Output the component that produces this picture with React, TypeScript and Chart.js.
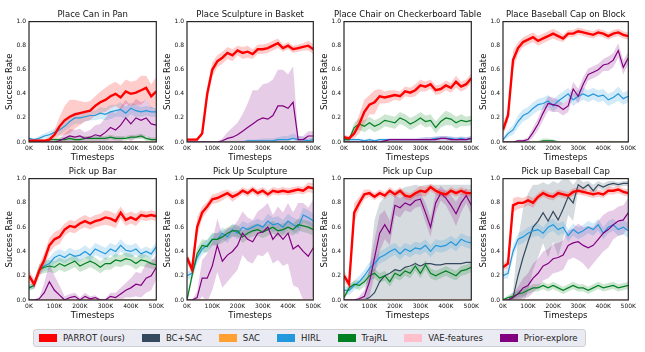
import React, { useEffect, useRef } from "react";
import { Chart, registerables } from "chart.js";

Chart.register(...registerables);
Chart.defaults.font.family = "'DejaVu Sans', sans-serif";

// ---------------- data ----------------
const timesteps = [0, 20000, 40000, 60000, 80000, 100000, 120000, 140000, 160000, 180000, 200000, 220000, 240000, 260000, 280000, 300000, 320000, 340000, 360000, 380000, 400000, 420000, 440000, 460000, 480000, 500000];
const xTickLabels = ["0K", "100K", "200K", "300K", "400K", "500K"];
const yTickLabels = ["0.0", "0.2", "0.4", "0.6", "0.8", "1.0"];

const methods = ["PARROT (ours)", "BC+SAC", "SAC", "HIRL", "TrajRL", "VAE-features", "Prior-explore"];
const methodColors = ["#ff0000", "#34495e", "#ffa030", "#2498dc", "#008020", "#ffc0cb", "#800080"];
const bandColors = ["rgba(255,0,0,0.2)", "rgba(52,73,94,0.2)", "rgba(255,160,48,0.2)", "rgba(36,152,220,0.2)", "rgba(0,128,32,0.2)", "rgba(255,192,203,0.3)", "rgba(128,0,128,0.2)"];

const panelTitles = ["Place Can in Pan", "Place Sculpture in Basket", "Place Chair on Checkerboard Table", "Place Baseball Cap on Block", "Pick up Bar", "Pick Up Sculpture", "Pick up Cup", "Pick up Baseball Cap"];

const ZERO = [0, 0, 0, 0, 0, 0, 0, 0, 0, 0, 0, 0, 0, 0, 0, 0, 0, 0, 0, 0, 0, 0, 0, 0, 0, 0];

// Place Can in Pan
const canPan_parrot = [0.01, 0.01, 0.01, 0.01, 0.02, 0.06, 0.13, 0.18, 0.21, 0.23, 0.24, 0.25, 0.26, 0.3, 0.33, 0.35, 0.38, 0.4, 0.37, 0.42, 0.4, 0.41, 0.43, 0.45, 0.38, 0.42];
const canPan_parrot_sd = [0.01, 0.01, 0.01, 0.01, 0.02, 0.04, 0.08, 0.12, 0.14, 0.12, 0.1, 0.08, 0.08, 0.08, 0.09, 0.1, 0.1, 0.1, 0.1, 0.1, 0.1, 0.1, 0.12, 0.1, 0.1, 0.12];
const canPan_hirl = [0.03, 0.02, 0.03, 0.05, 0.06, 0.08, 0.1, 0.13, 0.17, 0.2, 0.2, 0.21, 0.22, 0.22, 0.24, 0.23, 0.25, 0.26, 0.27, 0.24, 0.28, 0.26, 0.25, 0.26, 0.25, 0.25];
const canPan_hirl_sd = [0.01, 0.01, 0.02, 0.02, 0.03, 0.03, 0.04, 0.04, 0.05, 0.05, 0.05, 0.04, 0.04, 0.04, 0.05, 0.05, 0.06, 0.05, 0.06, 0.05, 0.05, 0.05, 0.04, 0.04, 0.04, 0.04];
const canPan_prior = [0, 0, 0, 0, 0, 0, 0.01, 0.03, 0.05, 0.04, 0.05, 0.03, 0.04, 0.06, 0.05, 0.08, 0.12, 0.1, 0.14, 0.2, 0.15, 0.2, 0.18, 0.2, 0.15, 0.14];
const canPan_prior_sd = [0, 0, 0, 0, 0, 0.01, 0.02, 0.04, 0.06, 0.06, 0.06, 0.05, 0.06, 0.08, 0.1, 0.12, 0.14, 0.14, 0.15, 0.15, 0.15, 0.16, 0.15, 0.15, 0.14, 0.14];
const canPan_traj = [0.01, 0.01, 0.01, 0.01, 0.02, 0.02, 0.02, 0.02, 0.03, 0.02, 0.02, 0.03, 0.03, 0.03, 0.03, 0.03, 0.04, 0.03, 0.03, 0.03, 0.04, 0.04, 0.05, 0.03, 0.02, 0.02];
const canPan_traj_sd = [0.01, 0.01, 0.01, 0.01, 0.01, 0.01, 0.02, 0.02, 0.02, 0.02, 0.02, 0.02, 0.02, 0.02, 0.02, 0.02, 0.02, 0.02, 0.02, 0.02, 0.02, 0.02, 0.02, 0.02, 0.02, 0.02];

// Place Sculpture in Basket
const sculptBasket_parrot = [0.02, 0.02, 0.02, 0.07, 0.4, 0.6, 0.67, 0.7, 0.74, 0.72, 0.76, 0.74, 0.75, 0.73, 0.77, 0.77, 0.78, 0.8, 0.82, 0.78, 0.8, 0.77, 0.78, 0.79, 0.8, 0.77];
const sculptBasket_parrot_sd = [0.01, 0.01, 0.01, 0.02, 0.06, 0.06, 0.05, 0.05, 0.05, 0.05, 0.04, 0.05, 0.05, 0.04, 0.04, 0.04, 0.04, 0.04, 0.04, 0.03, 0.03, 0.03, 0.03, 0.03, 0.04, 0.04];
const sculptBasket_prior = [0, 0, 0, 0, 0, 0, 0, 0.01, 0.03, 0.04, 0.06, 0.09, 0.12, 0.15, 0.18, 0.2, 0.19, 0.22, 0.3, 0.3, 0.28, 0.33, 0.02, 0.02, 0.05, 0.05];
const sculptBasket_prior_sd = [0, 0, 0, 0, 0, 0, 0, 0.02, 0.05, 0.08, 0.1, 0.14, 0.2, 0.28, 0.25, 0.28, 0.3, 0.3, 0.3, 0.3, 0.28, 0.3, 0.03, 0.03, 0.04, 0.04];
const sculptBasket_hirl = [0, 0, 0, 0, 0, 0, 0, 0, 0, 0, 0, 0, 0.01, 0.01, 0.01, 0.01, 0.01, 0.01, 0.02, 0.02, 0.02, 0.03, 0.02, 0.02, 0.01, 0.02];
const sculptBasket_hirl_sd = [0, 0, 0, 0, 0, 0, 0, 0, 0, 0, 0.01, 0.01, 0.01, 0.01, 0.01, 0.02, 0.02, 0.02, 0.02, 0.03, 0.03, 0.04, 0.03, 0.02, 0.02, 0.02];

// Place Chair on Checkerboard Table
const chair_parrot = [0.04, 0.03, 0.07, 0.15, 0.25, 0.31, 0.33, 0.38, 0.37, 0.38, 0.39, 0.38, 0.42, 0.41, 0.43, 0.47, 0.46, 0.48, 0.43, 0.44, 0.47, 0.45, 0.5, 0.46, 0.48, 0.53];
const chair_parrot_sd = [0.02, 0.02, 0.04, 0.08, 0.1, 0.08, 0.1, 0.06, 0.05, 0.05, 0.04, 0.04, 0.04, 0.04, 0.05, 0.05, 0.04, 0.04, 0.04, 0.04, 0.04, 0.04, 0.05, 0.04, 0.04, 0.04];
const chair_traj = [0.02, 0.02, 0.12, 0.15, 0.13, 0.16, 0.13, 0.15, 0.18, 0.17, 0.16, 0.2, 0.18, 0.15, 0.17, 0.2, 0.17, 0.18, 0.12, 0.17, 0.2, 0.19, 0.16, 0.18, 0.17, 0.18];
const chair_traj_sd = [0.01, 0.02, 0.04, 0.05, 0.05, 0.05, 0.05, 0.05, 0.05, 0.05, 0.05, 0.05, 0.05, 0.05, 0.05, 0.05, 0.05, 0.05, 0.05, 0.05, 0.06, 0.05, 0.05, 0.05, 0.04, 0.04];
const chair_hirl = [0.02, 0.02, 0.02, 0.02, 0.01, 0.02, 0.01, 0.02, 0.02, 0.02, 0.02, 0.02, 0.02, 0.02, 0.02, 0.02, 0.02, 0.02, 0.03, 0.03, 0.03, 0.03, 0.02, 0.03, 0.02, 0.03];
const chair_hirl_sd = [0.01, 0.01, 0.01, 0.01, 0.01, 0.01, 0.01, 0.01, 0.01, 0.01, 0.01, 0.01, 0.01, 0.01, 0.01, 0.02, 0.02, 0.02, 0.02, 0.02, 0.02, 0.02, 0.02, 0.02, 0.02, 0.02];
const chair_prior = [0, 0, 0, 0, 0, 0, 0, 0, 0.01, 0.02, 0.02, 0.02, 0.02, 0.02, 0.02, 0.02, 0.02, 0.02, 0.02, 0.03, 0.03, 0.02, 0.02, 0.02, 0.02, 0.03];
const chair_prior_sd = [0, 0, 0, 0, 0, 0, 0, 0.01, 0.01, 0.01, 0.01, 0.01, 0.01, 0.01, 0.01, 0.01, 0.02, 0.02, 0.02, 0.02, 0.02, 0.02, 0.02, 0.02, 0.02, 0.02];

// Place Baseball Cap on Block
const capBlock_parrot = [0.1, 0.22, 0.68, 0.78, 0.83, 0.85, 0.87, 0.84, 0.86, 0.88, 0.9, 0.88, 0.86, 0.9, 0.9, 0.92, 0.91, 0.9, 0.89, 0.91, 0.9, 0.88, 0.9, 0.91, 0.89, 0.88];
const capBlock_parrot_sd = [0.05, 0.05, 0.08, 0.05, 0.04, 0.04, 0.04, 0.04, 0.04, 0.04, 0.04, 0.04, 0.03, 0.03, 0.03, 0.03, 0.03, 0.03, 0.03, 0.03, 0.03, 0.03, 0.03, 0.03, 0.03, 0.03];
const capBlock_hirl = [0.02, 0.07, 0.1, 0.17, 0.22, 0.24, 0.28, 0.31, 0.32, 0.34, 0.3, 0.34, 0.37, 0.4, 0.35, 0.38, 0.4, 0.38, 0.4, 0.38, 0.39, 0.35, 0.37, 0.4, 0.36, 0.38];
const capBlock_hirl_sd = [0.02, 0.03, 0.04, 0.05, 0.05, 0.05, 0.05, 0.05, 0.05, 0.05, 0.05, 0.05, 0.05, 0.05, 0.05, 0.05, 0.05, 0.05, 0.05, 0.05, 0.05, 0.05, 0.05, 0.06, 0.05, 0.05];
const capBlock_prior = [0, 0, 0, 0.01, 0.01, 0.02, 0.08, 0.15, 0.24, 0.32, 0.31, 0.3, 0.27, 0.3, 0.44, 0.38, 0.48, 0.56, 0.58, 0.6, 0.64, 0.65, 0.68, 0.76, 0.62, 0.7];
const capBlock_prior_sd = [0, 0, 0, 0.01, 0.01, 0.02, 0.04, 0.05, 0.06, 0.06, 0.06, 0.05, 0.05, 0.05, 0.06, 0.06, 0.06, 0.05, 0.05, 0.05, 0.05, 0.06, 0.06, 0.06, 0.06, 0.05];
const capBlock_traj = [0, 0, 0, 0, 0, 0, 0, 0, 0.01, 0.01, 0.01, 0, 0, 0, 0, 0, 0, 0, 0, 0, 0, 0, 0, 0, 0, 0];
const capBlock_traj_sd = [0, 0, 0, 0, 0, 0, 0.01, 0.01, 0.02, 0.02, 0.01, 0.01, 0, 0, 0, 0, 0, 0, 0, 0, 0, 0.01, 0.01, 0, 0, 0];

// Pick up Bar
const bar_parrot = [0.2, 0.13, 0.24, 0.33, 0.45, 0.5, 0.52, 0.58, 0.61, 0.6, 0.63, 0.65, 0.63, 0.65, 0.66, 0.68, 0.67, 0.65, 0.72, 0.66, 0.68, 0.66, 0.7, 0.69, 0.7, 0.69];
const bar_parrot_sd = [0.05, 0.04, 0.05, 0.06, 0.06, 0.06, 0.06, 0.05, 0.05, 0.05, 0.05, 0.05, 0.05, 0.05, 0.05, 0.06, 0.06, 0.06, 0.05, 0.05, 0.05, 0.05, 0.04, 0.04, 0.04, 0.04];
const bar_hirl = [0.1, 0.12, 0.25, 0.28, 0.3, 0.35, 0.37, 0.35, 0.38, 0.36, 0.37, 0.4, 0.37, 0.42, 0.4, 0.38, 0.42, 0.4, 0.45, 0.41, 0.4, 0.42, 0.38, 0.4, 0.38, 0.44];
const bar_hirl_sd = [0.02, 0.03, 0.04, 0.04, 0.05, 0.05, 0.05, 0.05, 0.05, 0.05, 0.05, 0.05, 0.05, 0.05, 0.05, 0.05, 0.05, 0.05, 0.05, 0.05, 0.05, 0.05, 0.04, 0.04, 0.04, 0.04];
const bar_traj = [0.1, 0.12, 0.25, 0.27, 0.28, 0.27, 0.3, 0.28, 0.3, 0.32, 0.28, 0.3, 0.32, 0.3, 0.27, 0.3, 0.3, 0.33, 0.32, 0.34, 0.33, 0.3, 0.33, 0.32, 0.3, 0.29];
const bar_traj_sd = [0.02, 0.03, 0.04, 0.05, 0.05, 0.05, 0.05, 0.05, 0.05, 0.05, 0.05, 0.05, 0.05, 0.05, 0.05, 0.05, 0.05, 0.05, 0.05, 0.05, 0.05, 0.05, 0.05, 0.05, 0.04, 0.04];
const bar_prior = [0, 0, 0.01, 0.06, 0.15, 0.08, 0.04, 0, 0.02, 0.03, 0, 0.03, 0.01, 0.02, 0, 0, 0.03, 0.02, 0.05, 0.08, 0.1, 0.13, 0.12, 0.18, 0.2, 0.27];
const bar_prior_sd = [0, 0, 0.01, 0.08, 0.15, 0.12, 0.08, 0.03, 0.03, 0.03, 0.02, 0.03, 0.02, 0.02, 0.01, 0.01, 0.03, 0.04, 0.05, 0.06, 0.08, 0.1, 0.1, 0.12, 0.12, 0.1];

// Pick Up Sculpture
const pickSculpt_parrot = [0.35, 0.25, 0.6, 0.72, 0.77, 0.83, 0.84, 0.86, 0.88, 0.85, 0.87, 0.9, 0.88, 0.91, 0.88, 0.9, 0.87, 0.9, 0.89, 0.9, 0.89, 0.9, 0.91, 0.9, 0.93, 0.92];
const pickSculpt_parrot_sd = [0.04, 0.04, 0.08, 0.05, 0.04, 0.04, 0.04, 0.04, 0.03, 0.04, 0.03, 0.03, 0.03, 0.03, 0.03, 0.03, 0.03, 0.03, 0.03, 0.03, 0.03, 0.03, 0.03, 0.03, 0.04, 0.04];
const pickSculpt_hirl = [0.2, 0.22, 0.35, 0.42, 0.45, 0.5, 0.5, 0.55, 0.52, 0.58, 0.55, 0.6, 0.58, 0.6, 0.62, 0.6, 0.65, 0.62, 0.63, 0.6, 0.65, 0.62, 0.6, 0.7, 0.68, 0.65];
const pickSculpt_hirl_sd = [0.03, 0.04, 0.05, 0.05, 0.05, 0.05, 0.05, 0.05, 0.05, 0.05, 0.05, 0.05, 0.05, 0.05, 0.05, 0.05, 0.06, 0.06, 0.06, 0.06, 0.06, 0.06, 0.06, 0.06, 0.06, 0.06];
const pickSculpt_traj = [0, 0.2, 0.38, 0.45, 0.44, 0.5, 0.5, 0.52, 0.55, 0.57, 0.57, 0.52, 0.55, 0.57, 0.58, 0.56, 0.58, 0.6, 0.57, 0.58, 0.6, 0.58, 0.62, 0.61, 0.6, 0.58];
const pickSculpt_traj_sd = [0.02, 0.04, 0.05, 0.05, 0.05, 0.05, 0.05, 0.05, 0.05, 0.05, 0.05, 0.05, 0.05, 0.05, 0.05, 0.05, 0.05, 0.05, 0.05, 0.05, 0.05, 0.05, 0.05, 0.05, 0.05, 0.05];
const pickSculpt_prior = [0, 0, 0.02, 0.18, 0.18, 0.28, 0.45, 0.32, 0.37, 0.4, 0.45, 0.55, 0.5, 0.48, 0.55, 0.56, 0.6, 0.5, 0.55, 0.5, 0.55, 0.42, 0.45, 0.4, 0.36, 0.43];
const pickSculpt_prior_sd = [0, 0, 0.05, 0.15, 0.2, 0.2, 0.22, 0.22, 0.22, 0.2, 0.2, 0.18, 0.18, 0.18, 0.18, 0.2, 0.2, 0.2, 0.22, 0.22, 0.25, 0.3, 0.35, 0.4, 0.4, 0.4];

// Pick up Cup
const cup_parrot = [0.2, 0.13, 0.72, 0.8, 0.87, 0.88, 0.85, 0.88, 0.86, 0.9, 0.87, 0.9, 0.86, 0.85, 0.88, 0.9, 0.89, 0.93, 0.9, 0.88, 0.87, 0.9, 0.88, 0.9, 0.88, 0.88];
const cup_parrot_sd = [0.05, 0.03, 0.08, 0.05, 0.04, 0.03, 0.03, 0.03, 0.03, 0.03, 0.03, 0.03, 0.03, 0.03, 0.03, 0.04, 0.04, 0.03, 0.03, 0.03, 0.03, 0.03, 0.03, 0.03, 0.03, 0.03];
const cup_hirl = [0.08, 0.08, 0.12, 0.15, 0.2, 0.26, 0.3, 0.35, 0.37, 0.4, 0.42, 0.38, 0.42, 0.4, 0.43, 0.42, 0.45, 0.4, 0.45, 0.44, 0.45, 0.48, 0.45, 0.5, 0.48, 0.47];
const cup_hirl_sd = [0.03, 0.04, 0.04, 0.05, 0.05, 0.05, 0.05, 0.05, 0.05, 0.05, 0.05, 0.05, 0.05, 0.05, 0.05, 0.05, 0.05, 0.05, 0.05, 0.05, 0.05, 0.05, 0.05, 0.05, 0.05, 0.05];
const cup_traj = [0.02, 0.1, 0.13, 0.12, 0.15, 0.2, 0.22, 0.18, 0.2, 0.15, 0.22, 0.2, 0.24, 0.22, 0.28, 0.22, 0.29, 0.22, 0.2, 0.22, 0.24, 0.22, 0.2, 0.24, 0.25, 0.27];
const cup_traj_sd = [0.02, 0.03, 0.03, 0.04, 0.04, 0.04, 0.04, 0.04, 0.04, 0.04, 0.04, 0.04, 0.04, 0.04, 0.04, 0.04, 0.04, 0.04, 0.04, 0.04, 0.04, 0.04, 0.04, 0.04, 0.04, 0.04];
const cup_bcsac = [0, 0, 0, 0, 0, 0.02, 0.06, 0.15, 0.2, 0.22, 0.25, 0.24, 0.27, 0.28, 0.3, 0.28, 0.3, 0.3, 0.29, 0.29, 0.3, 0.3, 0.3, 0.3, 0.31, 0.31];
const cup_bcsac_sd = [0, 0, 0, 0, 0.03, 0.25, 0.6, 0.65, 0.65, 0.66, 0.65, 0.67, 0.66, 0.66, 0.65, 0.66, 0.65, 0.65, 0.66, 0.66, 0.65, 0.65, 0.65, 0.65, 0.64, 0.64];
const cup_prior = [0, 0, 0, 0.01, 0.03, 0.15, 0.35, 0.55, 0.62, 0.55, 0.78, 0.76, 0.8, 0.78, 0.82, 0.83, 0.72, 0.6, 0.8, 0.88, 0.84, 0.78, 0.71, 0.8, 0.86, 0.78];
const cup_prior_sd = [0, 0, 0, 0.02, 0.05, 0.12, 0.15, 0.15, 0.12, 0.1, 0.08, 0.08, 0.06, 0.06, 0.06, 0.06, 0.08, 0.08, 0.08, 0.06, 0.06, 0.08, 0.1, 0.08, 0.06, 0.08];

// Pick up Baseball Cap
const pickCap_parrot = [0.27, 0.3, 0.78, 0.8, 0.8, 0.82, 0.8, 0.85, 0.88, 0.86, 0.85, 0.88, 0.87, 0.86, 0.89, 0.9, 0.89, 0.88, 0.87, 0.88, 0.87, 0.9, 0.9, 0.91, 0.89, 0.88];
const pickCap_parrot_sd = [0.03, 0.04, 0.06, 0.05, 0.04, 0.04, 0.04, 0.03, 0.03, 0.03, 0.03, 0.03, 0.03, 0.03, 0.03, 0.03, 0.03, 0.03, 0.03, 0.03, 0.03, 0.03, 0.03, 0.03, 0.03, 0.03];
const pickCap_hirl = [0.2, 0.22, 0.4, 0.5, 0.52, 0.55, 0.57, 0.58, 0.55, 0.6, 0.62, 0.58, 0.6, 0.53, 0.58, 0.55, 0.57, 0.6, 0.58, 0.62, 0.55, 0.6, 0.62, 0.58, 0.6, 0.57];
const pickCap_hirl_sd = [0.03, 0.04, 0.05, 0.05, 0.05, 0.05, 0.05, 0.05, 0.05, 0.05, 0.05, 0.05, 0.05, 0.05, 0.05, 0.05, 0.05, 0.05, 0.05, 0.05, 0.05, 0.05, 0.05, 0.05, 0.06, 0.06];
const pickCap_bcsac = [0, 0, 0.02, 0.2, 0.35, 0.48, 0.6, 0.65, 0.72, 0.65, 0.73, 0.66, 0.75, 0.85, 0.8, 0.95, 0.92, 0.95, 0.9, 0.95, 0.93, 0.95, 0.96, 0.95, 0.96, 0.96];
const pickCap_bcsac_sd = [0, 0, 0.05, 0.3, 0.4, 0.4, 0.35, 0.3, 0.25, 0.3, 0.25, 0.3, 0.25, 0.15, 0.15, 0.05, 0.05, 0.03, 0.05, 0.03, 0.03, 0.03, 0.02, 0.02, 0.02, 0.02];
const pickCap_prior = [0, 0, 0.02, 0.05, 0.1, 0.12, 0.18, 0.22, 0.28, 0.3, 0.34, 0.35, 0.37, 0.45, 0.47, 0.48, 0.45, 0.43, 0.45, 0.5, 0.55, 0.58, 0.62, 0.65, 0.66, 0.72];
const pickCap_prior_sd = [0, 0, 0.03, 0.06, 0.08, 0.1, 0.12, 0.12, 0.12, 0.12, 0.12, 0.12, 0.12, 0.12, 0.12, 0.15, 0.15, 0.18, 0.15, 0.15, 0.15, 0.15, 0.12, 0.12, 0.12, 0.12];
const pickCap_traj = [0, 0.02, 0.03, 0.05, 0.06, 0.08, 0.1, 0.1, 0.12, 0.1, 0.12, 0.1, 0.08, 0.1, 0.12, 0.1, 0.1, 0.08, 0.1, 0.12, 0.1, 0.11, 0.12, 0.1, 0.11, 0.12];
const pickCap_traj_sd = [0.01, 0.02, 0.03, 0.03, 0.03, 0.03, 0.03, 0.03, 0.03, 0.03, 0.03, 0.03, 0.03, 0.03, 0.03, 0.03, 0.03, 0.03, 0.03, 0.03, 0.03, 0.03, 0.03, 0.03, 0.03, 0.03];

// method indices: 0 PARROT, 1 BC+SAC, 2 SAC, 3 HIRL, 4 TrajRL, 5 VAE-features, 6 Prior-explore
type S = { m: number; mean: number[]; sd: number[] };
const panelSeries: S[][] = [
  [
    { m: 1, mean: ZERO, sd: ZERO }, { m: 2, mean: ZERO, sd: ZERO }, { m: 5, mean: ZERO, sd: ZERO },
    { m: 3, mean: canPan_hirl, sd: canPan_hirl_sd }, { m: 6, mean: canPan_prior, sd: canPan_prior_sd },
    { m: 4, mean: canPan_traj, sd: canPan_traj_sd }, { m: 0, mean: canPan_parrot, sd: canPan_parrot_sd },
  ],
  [
    { m: 1, mean: ZERO, sd: ZERO }, { m: 2, mean: ZERO, sd: ZERO }, { m: 5, mean: ZERO, sd: ZERO }, { m: 4, mean: ZERO, sd: ZERO },
    { m: 3, mean: sculptBasket_hirl, sd: sculptBasket_hirl_sd }, { m: 6, mean: sculptBasket_prior, sd: sculptBasket_prior_sd },
    { m: 0, mean: sculptBasket_parrot, sd: sculptBasket_parrot_sd },
  ],
  [
    { m: 1, mean: ZERO, sd: ZERO }, { m: 2, mean: ZERO, sd: ZERO }, { m: 5, mean: ZERO, sd: ZERO },
    { m: 6, mean: chair_prior, sd: chair_prior_sd }, { m: 3, mean: chair_hirl, sd: chair_hirl_sd },
    { m: 4, mean: chair_traj, sd: chair_traj_sd }, { m: 0, mean: chair_parrot, sd: chair_parrot_sd },
  ],
  [
    { m: 1, mean: ZERO, sd: ZERO }, { m: 2, mean: ZERO, sd: ZERO }, { m: 5, mean: ZERO, sd: ZERO },
    { m: 4, mean: capBlock_traj, sd: capBlock_traj_sd }, { m: 3, mean: capBlock_hirl, sd: capBlock_hirl_sd },
    { m: 6, mean: capBlock_prior, sd: capBlock_prior_sd }, { m: 0, mean: capBlock_parrot, sd: capBlock_parrot_sd },
  ],
  [
    { m: 1, mean: ZERO, sd: ZERO }, { m: 5, mean: ZERO, sd: ZERO }, { m: 2, mean: ZERO, sd: ZERO },
    { m: 6, mean: bar_prior, sd: bar_prior_sd }, { m: 4, mean: bar_traj, sd: bar_traj_sd },
    { m: 3, mean: bar_hirl, sd: bar_hirl_sd }, { m: 0, mean: bar_parrot, sd: bar_parrot_sd },
  ],
  [
    { m: 1, mean: ZERO, sd: ZERO }, { m: 5, mean: ZERO, sd: ZERO }, { m: 2, mean: ZERO, sd: ZERO },
    { m: 6, mean: pickSculpt_prior, sd: pickSculpt_prior_sd }, { m: 3, mean: pickSculpt_hirl, sd: pickSculpt_hirl_sd },
    { m: 4, mean: pickSculpt_traj, sd: pickSculpt_traj_sd }, { m: 0, mean: pickSculpt_parrot, sd: pickSculpt_parrot_sd },
  ],
  [
    { m: 5, mean: ZERO, sd: ZERO }, { m: 2, mean: ZERO, sd: ZERO },
    { m: 1, mean: cup_bcsac, sd: cup_bcsac_sd }, { m: 3, mean: cup_hirl, sd: cup_hirl_sd },
    { m: 4, mean: cup_traj, sd: cup_traj_sd }, { m: 6, mean: cup_prior, sd: cup_prior_sd },
    { m: 0, mean: cup_parrot, sd: cup_parrot_sd },
  ],
  [
    { m: 5, mean: ZERO, sd: ZERO }, { m: 2, mean: ZERO, sd: ZERO },
    { m: 1, mean: pickCap_bcsac, sd: pickCap_bcsac_sd }, { m: 4, mean: pickCap_traj, sd: pickCap_traj_sd },
    { m: 6, mean: pickCap_prior, sd: pickCap_prior_sd }, { m: 3, mean: pickCap_hirl, sd: pickCap_hirl_sd },
    { m: 0, mean: pickCap_parrot, sd: pickCap_parrot_sd },
  ],
];

// ---------------- layout ----------------
const Y_AXIS_W = 27;
const RIGHT_PAD = 10;
const TOP_PAD = 21.6;
const colPlotLeft = [29, 187, 344, 503];
const colPlotW = [128, 127, 128, 126];
const rowTop = [0, 157];
const rowHeight = [165, 166];

const framePlugin = {
  id: "frame",
  afterDraw(chart: any) {
    const { ctx, chartArea: a } = chart;
    ctx.save();
    ctx.strokeStyle = "#262626";
    ctx.lineWidth = 1.2;
    ctx.strokeRect(a.left, a.top, a.right - a.left, a.bottom - a.top);
    ctx.restore();
  },
};

function makeTitlePlugin(text: string) {
  return {
    id: "panelTitle",
    afterDraw(chart: any) {
      const { ctx, chartArea: a } = chart;
      ctx.save();
      ctx.font = "8.5px 'DejaVu Sans', sans-serif";
      ctx.fillStyle = "#111";
      ctx.textAlign = "center";
      ctx.textBaseline = "middle";
      ctx.fillText(text, (a.left + a.right) / 2, a.top - 7.1);
      ctx.restore();
    },
  };
}

function Panel({ idx }: { idx: number }) {
  const ref = useRef<HTMLCanvasElement>(null);
  const col = idx % 4;
  const row = Math.floor(idx / 4);
  const left = colPlotLeft[col] - Y_AXIS_W;
  const width = Y_AXIS_W + colPlotW[col] + RIGHT_PAD;
  const top = rowTop[row];
  const height = rowHeight[row];

  useEffect(() => {
    if (!ref.current) return;
    const series = panelSeries[idx];
    const datasets: any[] = [];
    const drawRank = [0, 6, 5, 4, 3, 2, 1]; // lower = drawn on top
    series.forEach((s) => {
      const hasBand = s.sd.some((v) => v > 0);
      const rank = drawRank[s.m];
      if (hasBand) {
        datasets.push({
          data: timesteps.map((x, i) => ({ x, y: s.mean[i] - s.sd[i] })),
          borderWidth: 0, pointRadius: 0, fill: false, order: 20 + rank,
        });
        datasets.push({
          data: timesteps.map((x, i) => ({ x, y: s.mean[i] + s.sd[i] })),
          borderWidth: 0, pointRadius: 0, fill: "-1",
          backgroundColor: bandColors[s.m], order: 20 + rank,
        });
      }
    });
    series.forEach((s) => {
      datasets.push({
        label: methods[s.m],
        data: timesteps.map((x, i) => ({ x, y: s.mean[i] })),
        borderColor: methodColors[s.m],
        borderWidth: s.m === 0 ? 2.4 : 1.2,
        pointRadius: 0,
        fill: false,
        tension: 0,
        order: drawRank[s.m],
      });
    });

    const chart = new Chart(ref.current, {
      type: "line",
      data: { datasets },
      plugins: [framePlugin, makeTitlePlugin(panelTitles[idx])],
      options: {
        animation: false,
        responsive: false,
        maintainAspectRatio: false,
        devicePixelRatio: 1,
        layout: { padding: { left: 0, right: RIGHT_PAD, top: TOP_PAD, bottom: 0 } },
        plugins: {
          legend: { display: false },
          tooltip: { enabled: false },
          title: { display: false },
        },
        scales: {
          x: {
            type: "linear",
            min: 0,
            max: 500000,
            grid: { display: false, drawTicks: false },
            border: { display: false },
            afterFit: (s: any) => { s.height = 23; },
            ticks: {
              stepSize: 100000,
              padding: 3,
              color: "#111",
              maxRotation: 0,
              font: { size: 6 },
              callback: (v: any) => xTickLabels[Math.round(Number(v) / 100000)],
            },
            title: {
              display: true,
              text: "Timesteps",
              color: "#111",
              font: { size: 8.5 },
              padding: { top: 0, bottom: 2 },
            },
          },
          y: {
            min: 0,
            max: 1,
            grid: { display: false, drawTicks: false },
            border: { display: false },
            afterFit: (s: any) => { s.width = Y_AXIS_W; },
            ticks: {
              stepSize: 0.2,
              padding: 3,
              color: "#111",
              font: { size: 6 },
              callback: (v: any) => yTickLabels[Math.round(Number(v) * 5)],
            },
            title: {
              display: true,
              text: "Success Rate",
              color: "#111",
              font: { size: 8.5 },
              padding: { top: 3, bottom: 0 },
            },
          },
        },
      } as any,
    });
    return () => chart.destroy();
  }, [idx]);

  return (
    <canvas
      ref={ref}
      width={width}
      height={height}
      style={{ position: "absolute", left, top, width, height }}
    />
  );
}

function Legend() {
  return (
    <div
      style={{
        position: "absolute",
        left: 33,
        top: 329,
        width: 553,
        height: 18,
        boxSizing: "border-box",
        background: "#eaeaf2",
        border: "1px solid #cfcfd6",
        borderRadius: 3,
        display: "flex",
        alignItems: "center",
        paddingLeft: 5,
        fontFamily: "'DejaVu Sans', sans-serif",
        fontSize: 8.5,
        color: "#222",
        whiteSpace: "nowrap",
      }}
    >
      {methods.map((name, i) => (
        <div key={name} style={{ display: "flex", alignItems: "center", marginRight: 17 }}>
          <span style={{ display: "inline-block", width: 18, height: 8, background: methodColors[i], marginRight: 6 }} />
          <span>{name}</span>
        </div>
      ))}
    </div>
  );
}

export default function App() {
  return (
    <div style={{ position: "absolute", left: 0, top: 0, width: 645, height: 352, background: "#fff", overflow: "hidden" }}>
      {panelTitles.map((_, i) => (
        <Panel key={i} idx={i} />
      ))}
      <Legend />
    </div>
  );
}
